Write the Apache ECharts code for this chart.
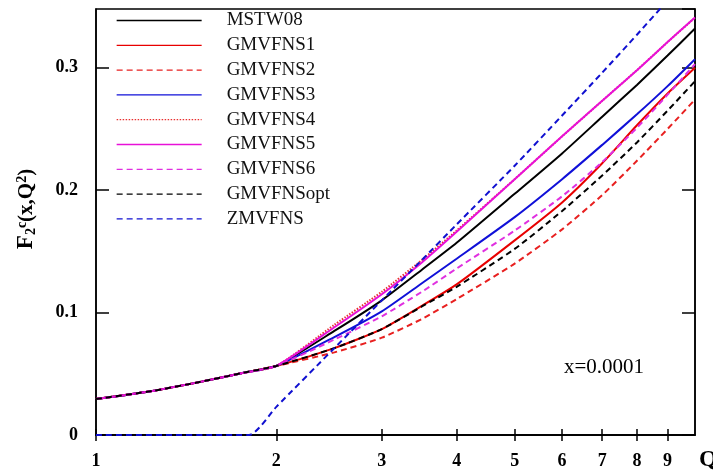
<!DOCTYPE html>
<html>
<head>
<meta charset="utf-8">
<script src="https://cdn.jsdelivr.net/npm/echarts@6/dist/echarts.min.js"></script>
<style>
html,body{margin:0;padding:0;background:#fff;}
#c{width:713px;height:476px;}
</style>
</head>
<body>
<div id="c"></div>
<script>
// ---- data ----
const qCommon = [1, 1.25, 1.5, 1.75, 2];
const fCommon = [0.0294, 0.0362, 0.0436, 0.0505, 0.0564];
const qBranch = [2.5, 3, 3.5, 4, 5, 6, 7, 8, 9, 10];
const mstw08    = [0.085, 0.110, 0.135, 0.157, 0.197, 0.230, 0.260, 0.286, 0.310, 0.332];
const gmvfns1   = [0.071, 0.0865, 0.1055, 0.123, 0.159, 0.190, 0.222, 0.253, 0.279, 0.300];
const gmvfns2   = [0.0675, 0.0795, 0.0948, 0.111, 0.140, 0.168, 0.196, 0.224, 0.250, 0.274];
const gmvfns3   = [0.080, 0.101, 0.124, 0.144, 0.178, 0.209, 0.237, 0.262, 0.285, 0.307];
const gmvfns4   = [0.090, 0.117, 0.143, 0.167, 0.209, 0.244, 0.273, 0.298, 0.321, 0.341];
const gmvfns5   = [0.088, 0.115, 0.141, 0.166, 0.209, 0.244, 0.273, 0.298, 0.321, 0.341];
const gmvfns6   = [0.078, 0.097, 0.117, 0.136, 0.167, 0.195, 0.223, 0.251, 0.278, 0.303];
const gmvfnsOpt = [0.071, 0.0865, 0.105, 0.121, 0.152, 0.183, 0.212, 0.239, 0.265, 0.289];
const qZm    = [1, 1.8, 2, 2.5, 3, 3.5, 4, 5, 6, 7, 8, 9];
const zmvfns = [0, 0, 0.023, 0.071, 0.110, 0.143, 0.172, 0.220, 0.261, 0.296, 0.327, 0.355];
const xTickLabels = [1, 2, 3, 4, 5, 6, 7, 8, 9];
const seriesNames = ['MSTW08','GMVFNS1','GMVFNS2','GMVFNS3','GMVFNS4','GMVFNS5','GMVFNS6','GMVFNSopt','ZMVFNS'];
const annotation = 'x=0.0001';

// ---- build ----
function branchPairs(vals){
  const out = qCommon.map((q,i)=>[q, fCommon[i]]);
  qBranch.forEach((q,i)=>out.push([q, vals[i]]));
  return out;
}
const styles = {
  'MSTW08':   {color:'#000000', type:'solid'},
  'GMVFNS1':  {color:'#e80000', type:'solid'},
  'GMVFNS2':  {color:'#e82020', type:[6,4]},
  'GMVFNS3':  {color:'#1010d8', type:'solid'},
  'GMVFNS4':  {color:'#e83030', type:[1.5,1.5]},
  'GMVFNS5':  {color:'#e810d8', type:'solid'},
  'GMVFNS6':  {color:'#e030e0', type:[6,4]},
  'GMVFNSopt':{color:'#000000', type:[6,4]},
  'ZMVFNS':   {color:'#1010d0', type:[6,4]}
};
const dataMap = {
  'MSTW08': branchPairs(mstw08),
  'GMVFNS1': branchPairs(gmvfns1),
  'GMVFNS2': branchPairs(gmvfns2),
  'GMVFNS3': branchPairs(gmvfns3),
  'GMVFNS4': branchPairs(gmvfns4),
  'GMVFNS5': branchPairs(gmvfns5),
  'GMVFNS6': branchPairs(gmvfns6),
  'GMVFNSopt': branchPairs(gmvfnsOpt),
  'ZMVFNS': qZm.map((q,i)=>[q, zmvfns[i]])
};
const series = seriesNames.map(n=>({
  name:n, type:'line', xAxisIndex:0, yAxisIndex:0,
  data:dataMap[n], symbol:'none', showSymbol:false, smooth:0.2,
  clip:true,
  lineStyle:{color:styles[n].color, type:styles[n].type, width:2},
  itemStyle:{color:styles[n].color},
  emphasis:{disabled:true}
}));

const serif = 'Liberation Serif, Times New Roman, serif';
const chart = echarts.init(document.getElementById('c'), null, {renderer:'canvas'});
chart.setOption({
  animation:false,
  backgroundColor:'#fff',
  grid:{left:96, right:18, top:9, bottom:41, show:true, borderColor:'#000', borderWidth:1.5, containLabel:false},
  legend:{
    orient:'vertical', left:111, top:6, itemWidth:85, itemHeight:15, itemGap:5.8,
    data:seriesNames,
    lineStyle:{width:1.3},
    itemStyle:{opacity:0},
    textStyle:{fontFamily:serif, fontSize:19, color:'#111', padding:[0,0,0,20]},
    selectedMode:false
  },
  xAxis:[{
    type:'log', logBase:10, min:1, max:10, position:'bottom',
    axisLine:{show:true, lineStyle:{color:'#000', width:1.5}},
    axisTick:{show:true, inside:true, length:6, lineStyle:{color:'#000', width:1.5}, customValues:xTickLabels},
    axisLabel:{show:true, customValues:xTickLabels, margin:17, fontFamily:serif, fontWeight:'bold', fontSize:18, color:'#000'},
    minorTick:{show:false}, splitLine:{show:false}
  },{
    type:'log', logBase:10, min:1, max:10, position:'top',
    axisLine:{show:true, lineStyle:{color:'#000', width:1.5}},
    axisTick:{show:true, inside:true, length:6, lineStyle:{color:'#000', width:1.5}, customValues:xTickLabels},
    axisLabel:{show:false}, splitLine:{show:false}
  }],
  yAxis:[{
    type:'value', min:0, max:0.348, interval:0.1, position:'left',
    name:'{f|F}{sub|2}{sup|c}{n|(x,Q}{sup|2}{n|)}', nameLocation:'middle', nameRotate:90, nameGap:58,
    nameTextStyle:{padding:[0,0,0,26], rich:{
      f:{fontFamily:serif, fontWeight:'bold', fontSize:23, color:'#000'},
      n:{fontFamily:serif, fontWeight:'bold', fontSize:21, color:'#000'},
      sub:{fontFamily:serif, fontWeight:'bold', fontSize:14, color:'#000', verticalAlign:'bottom', padding:[9,0,0,0]},
      sup:{fontFamily:serif, fontWeight:'bold', fontSize:14, color:'#000', verticalAlign:'top', padding:[0,0,9,0]}
    }},
    axisLine:{show:true, lineStyle:{color:'#000', width:1.5}},
    axisTick:{show:true, inside:true, length:13, lineStyle:{color:'#000', width:1.5}},
    axisLabel:{show:true, showMaxLabel:false, margin:18, fontFamily:serif, fontWeight:'bold', fontSize:18, color:'#000'},
    splitLine:{show:false}
  },{
    type:'value', min:0, max:0.348, interval:0.1, position:'right',
    axisLine:{show:true, lineStyle:{color:'#000', width:1.5}},
    axisTick:{show:true, inside:true, length:13, lineStyle:{color:'#000', width:1.5}},
    axisLabel:{show:false}, splitLine:{show:false}
  }],
  graphic:[
    {type:'text', left:564, top:357, style:{text:annotation, fontFamily:serif, fontSize:21, fill:'#000'}},
    {type:'text', left:699, top:448, style:{text:'Q', fontFamily:serif, fontWeight:'bold', fontSize:24, fill:'#000'}}
  ],
  series:series
});
</script>
</body>
</html>
